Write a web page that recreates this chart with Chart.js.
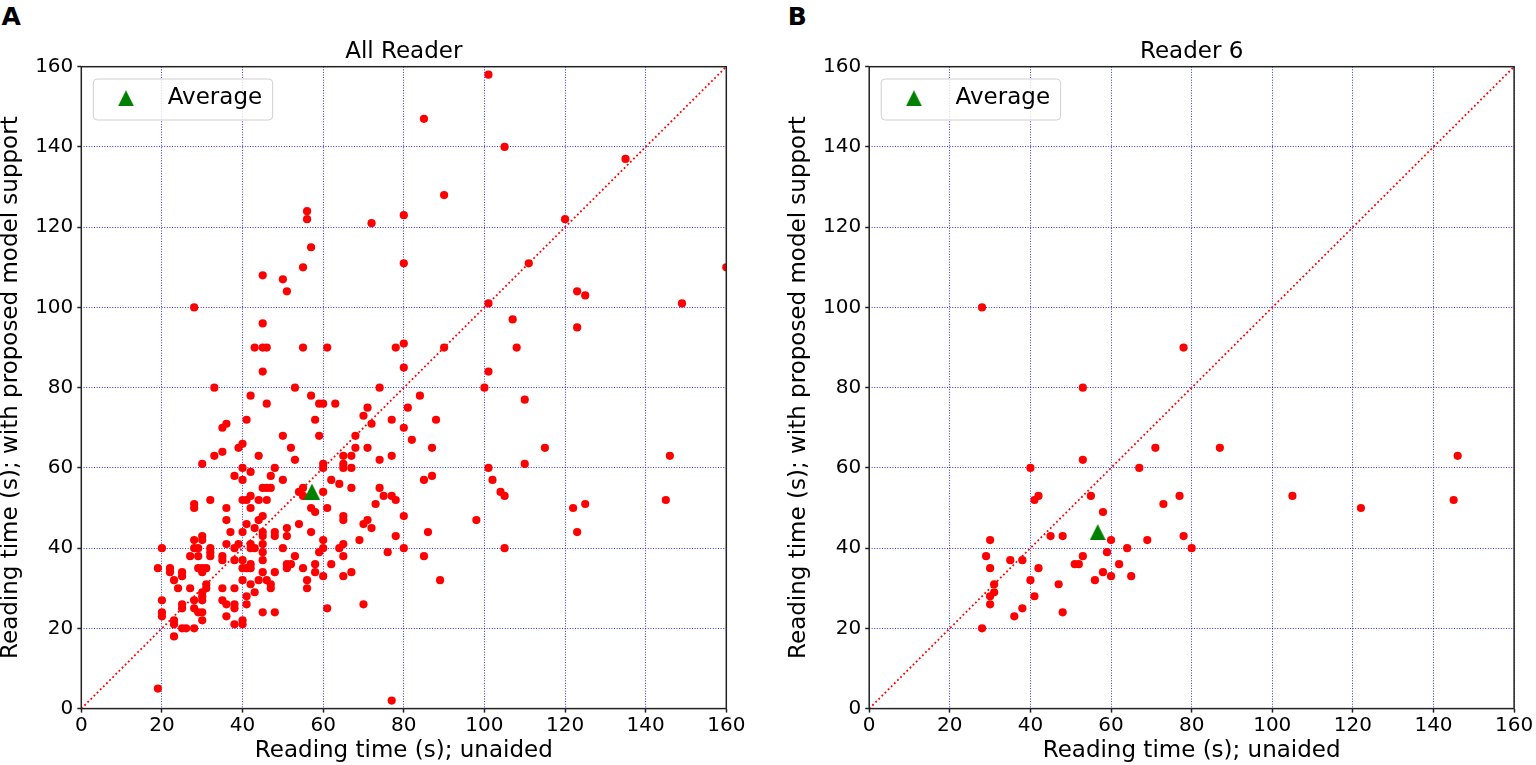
<html>
<head>
  <title>Reading time scatter</title>
  <script src="https://cdn.jsdelivr.net/npm/chart.js"></script>
  <style>
    body { margin: 0; background: #fff; }
    canvas { position: absolute; top: 0; }
    .tag { position: absolute; font: bold 25px "DejaVu Sans"; line-height: 25px; color: #000; }
  </style>
</head>
<body>
  <div class="tag" style="left:1.5px;top:3.9px">A</div>
  <div class="tag" style="left:787.7px;top:3.9px">B</div>
  <canvas id="allChart" width="768" height="765" style="left:0"></canvas>
  <canvas id="r6Chart" width="768" height="765" style="left:768px"></canvas>
  <script>
    // panel A: all readers (unaided x, with model y)
    const allX = [
      85, 56, 56, 72, 80, 57, 55, 80, 45, 50, 51, 28, 45, 43, 45, 46, 55, 61, 78, 80, 45, 80, 33, 53, 74,
      101, 105, 135, 90, 120, 111, 160, 123, 125, 149, 101, 107, 123, 90, 108, 101, 100,
      84, 110, 88, 87, 115, 146, 101, 110, 85, 87, 102, 104, 105, 122, 125, 145, 98, 86, 123, 105, 85, 89,
      57, 59, 60, 63, 71, 81, 70, 58, 72, 77, 80, 50, 59, 68, 82, 52, 68, 71, 53, 60,
      60, 65, 65, 65, 67, 67, 74, 77, 50, 62, 64, 67, 74, 55, 54, 55, 60, 75, 77, 78,
      73, 57, 58, 61, 80, 65, 65, 70, 71, 72, 54, 51, 51, 57, 60, 60, 59, 64, 65, 69,
      78, 80, 76, 50, 53, 65, 51, 51, 52, 55, 58, 58, 62, 60, 65, 67, 56, 56, 48, 61, 70, 77,
      42, 46, 41, 35, 36, 40, 39, 44, 35, 33, 30, 40, 42, 38, 40, 47, 45, 46, 47, 42,
      40, 41, 44, 46, 32, 28, 28, 36, 42, 45, 44, 36, 41, 43, 37, 40, 45, 45, 48, 48,
      30, 28, 30, 28, 29, 20, 27, 29, 32, 32, 32, 36, 35, 35, 38, 39, 38, 42, 43, 42,
      45, 45, 45, 45, 40, 40, 41, 42, 42, 19, 22, 22, 23, 25, 25, 24, 27, 29, 30, 31,
      30, 31, 31, 30, 30, 35, 38, 40, 42, 43, 44, 46, 47, 47, 41, 41, 45, 48, 20, 20,
      20, 23, 23, 25, 25, 28, 29, 30, 30, 28, 30, 35, 36, 38, 38, 36, 25, 26, 28, 23,
      38, 40, 40, 19, 48
    ];
    const allY = [
      147, 124, 122, 121, 123, 115, 110, 111, 108, 107, 104, 100, 96, 90, 90, 90, 90, 90, 90, 91, 84, 85, 80, 80, 80,
      158, 140, 137, 128, 122, 111, 110, 104, 103, 101, 101, 97, 95, 90, 90, 84, 80,
      78, 77, 72, 65, 65, 63, 60, 61, 57, 58, 57, 54, 53, 50, 51, 52, 47, 44, 44, 40, 38, 32,
      78, 76, 76, 76, 75, 75, 73, 72, 71, 72, 70, 68, 68, 68, 67, 65, 65, 65, 62, 61,
      60, 63, 61, 60, 63, 60, 62, 63, 57, 57, 56, 55, 55, 55, 54, 53, 54, 53, 53, 52,
      51, 50, 49, 50, 48, 48, 47, 46, 47, 45, 46, 45, 43, 44, 42, 40, 39, 40, 41, 42,
      43, 40, 39, 40, 38, 38, 36, 35, 36, 35, 36, 34, 36, 33, 33, 34, 32, 30, 34, 25, 26, 2,
      78, 76, 72, 70, 71, 66, 65, 63, 64, 63, 61, 60, 59, 58, 57, 58, 55, 55, 55, 53,
      52, 52, 52, 52, 52, 51, 50, 50, 50, 48, 47, 47, 46, 45, 44, 44, 44, 43, 44, 43,
      43, 42, 42, 40, 40, 40, 38, 38, 40, 39, 38, 41, 38, 37, 40, 41, 37, 40, 40, 41,
      41, 39, 37, 34, 37, 35, 35, 35, 36, 35, 35, 34, 32, 34, 33, 30, 30, 35, 35, 35,
      34, 31, 30, 29, 28, 30, 30, 32, 31, 29, 32, 32, 31, 30, 28, 26, 24, 24, 27, 24,
      23, 22, 21, 26, 25, 25, 24, 24, 22, 27, 27, 27, 26, 26, 25, 23, 20, 20, 20, 18,
      21, 22, 21, 5, 60
    ];
    const allAvg = [57.2, 54.1];

    // panel B: reader 6
    const r6X = [
      28, 53, 78, 40, 53, 67, 71, 87, 41, 42, 55, 58, 77, 73, 105, 122, 145, 146, 30, 45,
      48, 60, 69, 78, 80, 29, 35, 38, 53, 59, 64, 30, 42, 51, 52, 62, 40, 56, 58, 60,
      65, 47, 31, 31, 30, 30, 41, 38, 36, 48, 28
    ];
    const r6Y = [
      100, 80, 90, 60, 62, 60, 65, 65, 52, 53, 53, 49, 53, 51, 53, 50, 52, 63, 42, 43,
      43, 42, 42, 43, 40, 38, 37, 37, 38, 39, 40, 35, 35, 36, 36, 36, 32, 32, 34, 33,
      33, 31, 31, 29, 28, 26, 28, 25, 23, 24, 20
    ];
    const r6Avg = [56.7, 44];

    const diagX = [0, 160];
    const diagY = [0, 160];
    const axisTicks = [0, 20, 40, 60, 80, 100, 120, 140, 160];

    Chart.defaults.font.family = '"DejaVu Sans"';
    Chart.defaults.color = '#000';

    // matplotlib-like "^" marker (isosceles, centred on its box)
    function makeTriangle(w, h, color) {
      const c = document.createElement('canvas');
      c.width = w; c.height = h;
      const g = c.getContext('2d');
      g.fillStyle = color;
      g.beginPath();
      g.moveTo(w / 2, 0); g.lineTo(w, h); g.lineTo(0, h);
      g.closePath();
      g.fill();
      return c;
    }
    const tri = makeTriangle(16, 16, '#008000');

    const frameAndLegend = {
      id: 'frameAndLegend',
      afterDatasetsDraw(chart) {
        const { ctx, chartArea: a } = chart;
        ctx.save();
        ctx.strokeStyle = '#222';
        ctx.lineWidth = 1.5;
        ctx.strokeRect(a.left, a.top, a.right - a.left, a.bottom - a.top);

        // legend box
        const bx = a.left + 12, by = a.top + 12.3, bw = 179.4, bh = 41, r = 4;
        ctx.beginPath();
        ctx.moveTo(bx + r, by);
        ctx.lineTo(bx + bw - r, by);
        ctx.arcTo(bx + bw, by, bx + bw, by + r, r);
        ctx.lineTo(bx + bw, by + bh - r);
        ctx.arcTo(bx + bw, by + bh, bx + bw - r, by + bh, r);
        ctx.lineTo(bx + r, by + bh);
        ctx.arcTo(bx, by + bh, bx, by + bh - r, r);
        ctx.lineTo(bx, by + r);
        ctx.arcTo(bx, by, bx + r, by, r);
        ctx.closePath();
        ctx.fillStyle = 'rgba(255,255,255,0.8)';
        ctx.fill();
        ctx.strokeStyle = '#d0d0d0';
        ctx.lineWidth = 1;
        ctx.stroke();
        ctx.drawImage(tri, a.left + 44.7 - 8, a.top + 31.6 - 8);
        ctx.fillStyle = '#000';
        ctx.font = '23px "DejaVu Sans"';
        ctx.textAlign = 'left';
        ctx.textBaseline = 'middle';
        ctx.fillText('Average', a.left + 86.4, a.top + 31.8);
        ctx.restore();
      }
    };

    function axis(titleText, isX, size) {
      return {
        type: 'linear',
        min: 0,
        max: 160,
        afterBuildTicks: s => { s.ticks = axisTicks.map(v => ({ value: v })); },
        afterFit: s => { if (isX) s.height = size; else s.width = size; },
        ticks: {
          font: { size: 20 },
          color: '#000',
          padding: isX ? 1 : 4,
          maxRotation: 0,
          autoSkip: false
        },
        grid: {
          color: 'rgba(0,0,255,0.8)',
          lineWidth: 1,
          drawTicks: true,
          tickColor: '#222',
          tickLength: 4,
          tickWidth: 1.5,
          tickBorderDash: []
        },
        border: { display: false, dash: [1, 1.6] },
        title: {
          display: true,
          text: titleText,
          color: '#000',
          font: { size: 23, lineHeight: 1 },
          padding: isX ? { top: 0, bottom: 2 } : { top: 0, bottom: 0 }
        }
      };
    }

    function drawPanel(canvasId, titleText, xs, ys, avg, pad, yWidth) {
      return new Chart(document.getElementById(canvasId), {
        type: 'scatter',
        data: {
          datasets: [
            {
              data: xs.map((x, i) => ({ x: x, y: ys[i] })),
              backgroundColor: '#ff0000',
              borderWidth: 0,
              pointRadius: 4.1,
              pointHoverRadius: 4.1,
              clip: 0,
              order: 1
            },
            {
              data: diagX.map((x, i) => ({ x: x, y: diagY[i] })),
              showLine: true,
              borderColor: '#ff0000',
              borderWidth: 1.8,
              borderDash: [1.8, 2.6],
              pointRadius: 0,
              order: 2
            },
            {
              data: [{ x: avg[0], y: avg[1] }],
              pointStyle: tri,
              pointRadius: 8,
              order: 0
            }
          ]
        },
        options: {
          responsive: false,
          animation: false,
          events: [],
          layout: { autoPadding: false, padding: pad },
          scales: {
            x: axis('Reading time (s); unaided', true, 56.4),
            y: axis('Reading time (s); with proposed model support', false, yWidth)
          },
          plugins: {
            legend: { display: false },
            tooltip: { enabled: false },
            title: {
              display: true,
              text: titleText,
              fullSize: false,
              color: '#000',
              font: { size: 23, weight: 'normal', lineHeight: 1.2 },
              padding: { top: 38.2, bottom: 0.9 }
            }
          }
        },
        plugins: [frameAndLegend]
      });
    }

    drawPanel('allChart', 'All Reader', allX, allY, allAvg, { left: 0, right: 41.7, top: 0, bottom: 0 }, 81.3);
    drawPanel('r6Chart', 'Reader 6', r6X, r6Y, r6Avg, { left: 19.8, right: 21.9, top: 0, bottom: 0 }, 81.4);
  </script>
</body>
</html>
